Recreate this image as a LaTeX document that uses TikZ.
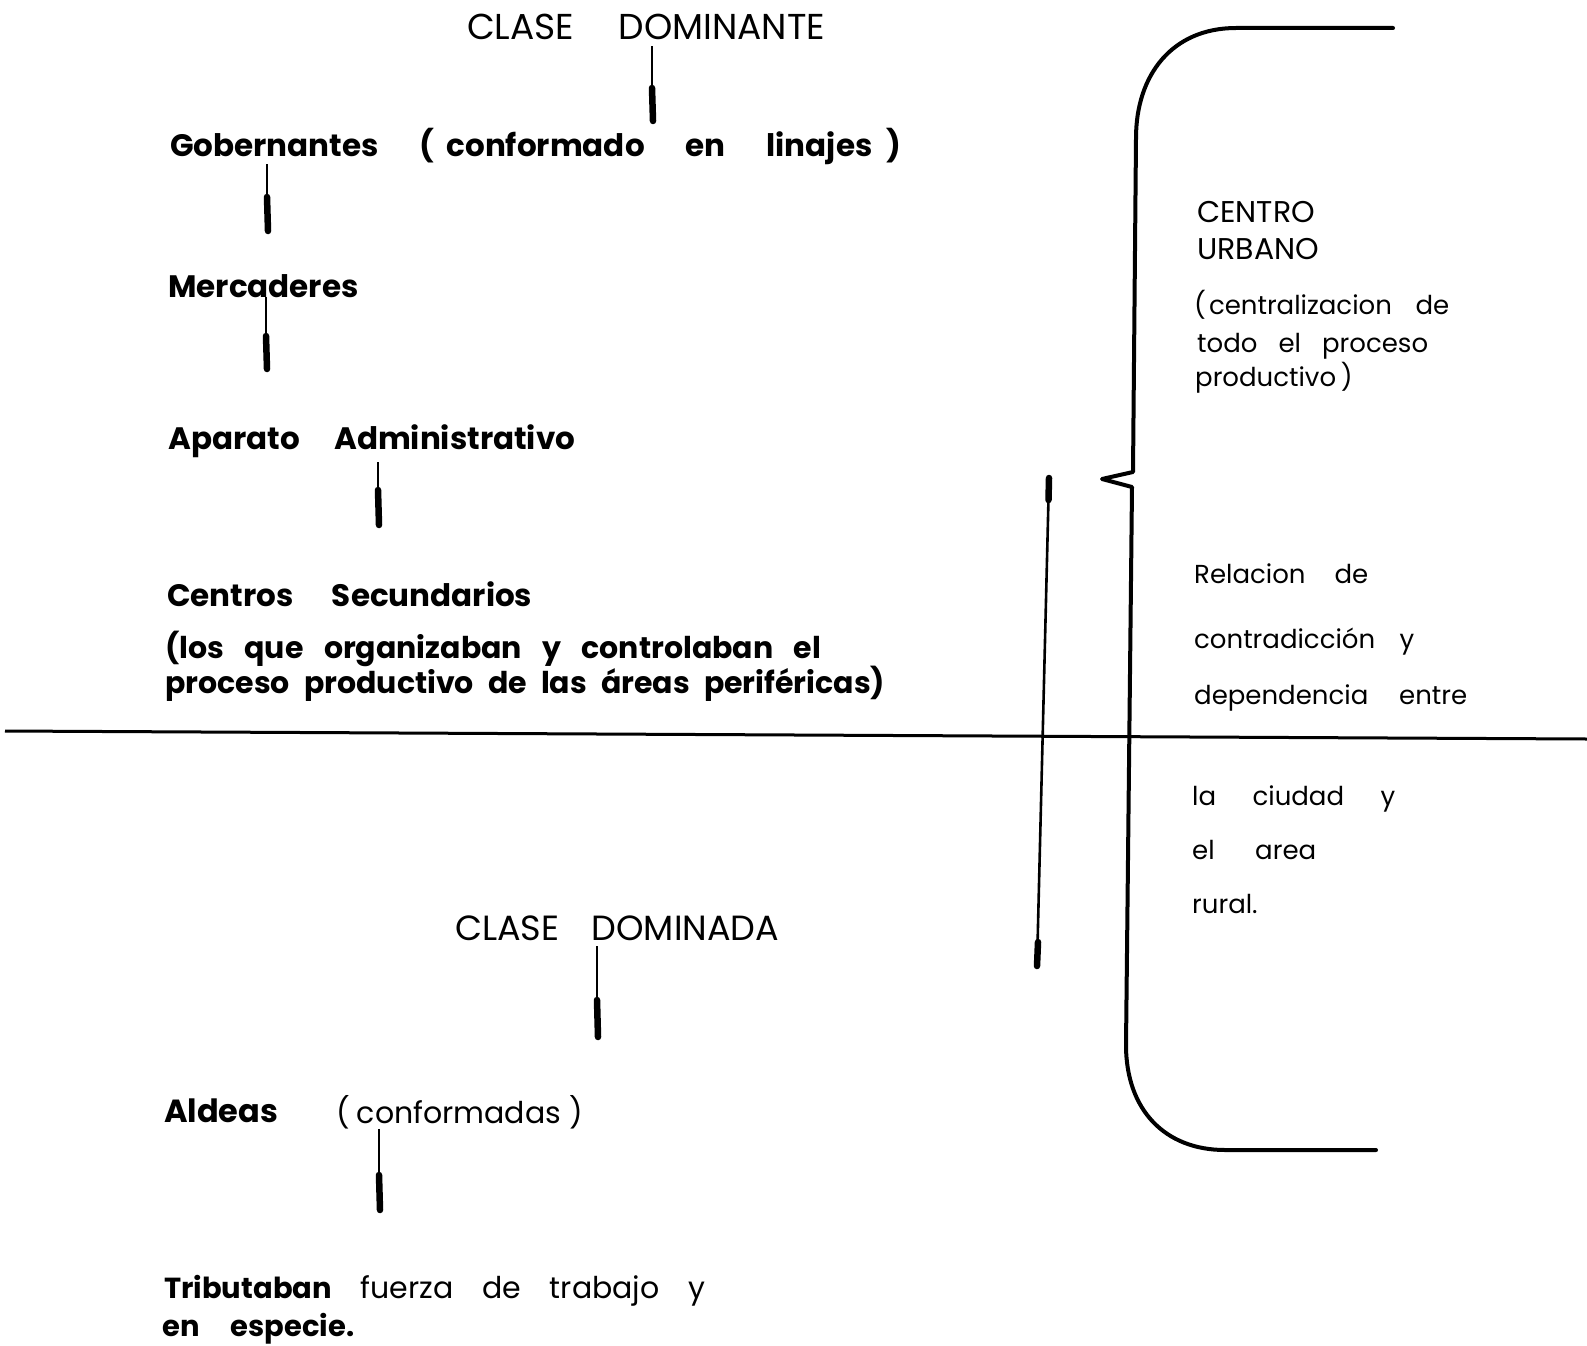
\documentclass[tikz,border=0pt]{standalone}
\usepackage{fontspec}
\setmainfont{Poppins}
\newcommand{\fitw}[2]{\makebox[#1pt][s]{#2}}
\begin{document}
\begin{tikzpicture}[x=1pt,y=-1pt,
  heavy/.style={anchor=base west,inner sep=0pt,font=\bfseries\fontsize{31}{36}\selectfont},
  heavys/.style={anchor=base west,inner sep=0pt,font=\bfseries\fontsize{30}{36}\selectfont},
  plain/.style={anchor=base west,inner sep=0pt,font=\fontsize{30}{36}\selectfont},
  title/.style={anchor=base west,inner sep=0pt,font=\fontsize{36}{40}\selectfont},
  side/.style={anchor=base west,inner sep=0pt,font=\fontsize{26}{32}\selectfont},
  sidecap/.style={anchor=base west,inner sep=0pt,font=\fontsize{30}{34}\selectfont},
  thinc/.style={line width=2.6pt},
  thickc/.style={line width=6.5pt,line cap=round},
  rule/.style={line width=3pt},
  bracket/.style={line width=4pt,line join=round,line cap=round}]
\useasboundingbox (0,0) rectangle (1587,1346);

% upper class
\node[title] (cdom) at (467,40) {\fitw{358}{CLASE DOMINANTE}};
\node[heavy] (gob) at (170,156) {\fitw{731}{Gobernantes (\hspace{12pt}conformado en linajes\hspace{14pt})}};
\node[heavy] (mer) at (168,297) {Mercaderes};
\node[heavy] (apa) at (168,449) {\fitw{407}{Aparato Administrativo}};
\node[heavy] (cen) at (167,606) {\fitw{365}{Centros Secundarios}};
\node[heavys] (los1) at (165,658) {\fitw{656}{(los que organizaban y controlaban el}};
\node[heavys] (los2) at (165,693) {\fitw{720}{proceso productivo de las áreas periféricas)}};

% lower class
\node[title,font=\fontsize{35}{40}\selectfont] (cdoa) at (455,940) {\fitw{324}{CLASE DOMINADA}};
\node[heavy,font=\bfseries\fontsize{32}{36}\selectfont] (ald) at (164,1122) {Aldeas};
\node[plain] (conf) at (336,1123) {\fitw{254}{(\hspace{7pt}conformadas\hspace{8pt})}};
\node[plain] (trib) at (164,1298) {\fitw{541}{{\bfseries\fontsize{29}{36}\selectfont Tributaban} fuerza de trabajo y}};
\node[heavy,font=\bfseries\fontsize{29}{36}\selectfont] (esp) at (162,1336) {\fitw{192}{en especie.}};

% right column
\node[sidecap] (r1) at (1197,222) {CENTRO};
\node[sidecap] (r2) at (1197,259) {URBANO};
\node[side] (r3) at (1194,314) {\fitw{255}{(\hspace{3pt}centralizacion de}};
\node[side] (r4) at (1197,352) {\fitw{231}{todo el proceso}};
\node[side] (r5) at (1195,386) {\fitw{157}{productivo )}};
\node[side] (r6) at (1194,583) {\fitw{174}{Relacion de}};
\node[side] (r7) at (1194,648) {\fitw{220}{contradicción y}};
\node[side] (r8) at (1194,704) {\fitw{273}{dependencia entre}};
\node[side] (r9) at (1192,805) {\fitw{203}{la ciudad y}};
\node[side] (r10) at (1192,859) {\fitw{124}{el area}};
\node[side] (r11) at (1192,913) {rural.};

% connectors
\coordinate (k1) at (652,88);  \coordinate (e1) at (653,121);
\coordinate (k2) at (267,197); \coordinate (e2) at (268,231);
\coordinate (k3) at (266,336); \coordinate (e3) at (267,369);
\coordinate (k4) at (378,490); \coordinate (e4) at (379,525);
\coordinate (k5) at (597,1000); \coordinate (e5) at (598,1037);
\coordinate (k6) at (379,1175); \coordinate (e6) at (380,1210);
\draw[thinc] ([yshift=-6pt]cdom.south -| k1) -- (k1);
\draw[thickc] (k1) -- (e1);
\draw[thinc] (gob.south -| k2) -- (k2);
\draw[thickc] (k2) -- (e2);
\draw[thinc] (mer.south -| k3) -- (k3);
\draw[thickc] (k3) -- (e3);
\draw[thinc] ([yshift=-5pt]apa.south -| k4) -- (k4);
\draw[thickc] (k4) -- (e4);
\draw[thinc] ([yshift=-6pt]cdoa.south -| k5) -- (k5);
\draw[thickc] (k5) -- (e5);
\draw[thinc] (conf.south -| k6) -- (k6);
\draw[thickc] (k6) -- (e6);

% long vertical line
\coordinate (vt) at (1049,478);
\coordinate (vtk) at (1048.5,500);
\coordinate (vbk) at (1038,942);
\coordinate (vb) at (1037,966);
\draw[thinc] (vt) -- (vb);
\draw[thickc] (vt) -- (vtk);
\draw[thickc] (vbk) -- (vb);

% horizontal division
\draw[rule] (5,731) -- (1587,739);

% bracket
\draw[bracket] (1393,28) -- (1236,28)
  .. controls (1172,28) and (1136,75) .. (1136,138)
  -- (1133,472) -- (1102,479) -- (1132,487) -- (1126,1045)
  .. controls (1126,1110) and (1165,1150) .. (1225,1150) -- (1376,1150);
\end{tikzpicture}
\end{document}
